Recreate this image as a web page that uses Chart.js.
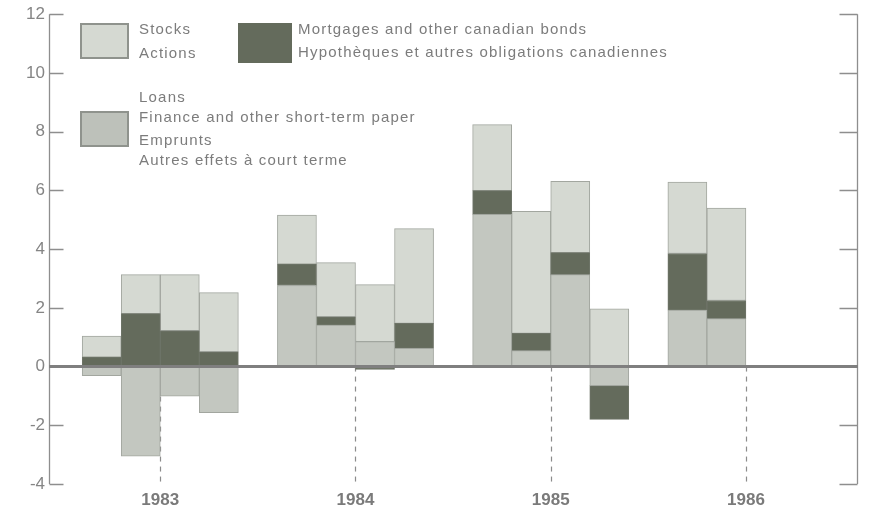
<!DOCTYPE html>
<html>
<head>
<meta charset="utf-8">
<script src="https://cdn.jsdelivr.net/npm/chart.js@4.4.1/dist/chart.umd.min.js"></script>
<style>
  html, body { margin: 0; padding: 0; background: #ffffff; }
  #wrap { position: relative; width: 869px; height: 512px; }
  canvas { position: absolute; left: 0; top: 0; }
  .lg { position: absolute; font-family: "Liberation Sans", Arial, sans-serif; font-size: 15px;
        color: #7c7c7c; letter-spacing: 1.2px; white-space: nowrap; line-height: 16px; }
  .box { position: absolute; box-sizing: border-box; }
</style>
</head>
<body>
<div id="wrap">
  <canvas id="c" width="869" height="512"></canvas>
  <div class="box" style="left:80px;top:23px;width:49px;height:36px;background:#d5d9d2;border:2px solid #8f938d;"></div>
  <div class="lg" style="left:139px;top:21px;">Stocks</div>
  <div class="lg" style="left:139px;top:45px;">Actions</div>
  <div class="box" style="left:238px;top:23px;width:54px;height:40px;background:#646b5c;"></div>
  <div class="lg" style="left:298px;top:21px;">Mortgages and other canadian bonds</div>
  <div class="lg" style="left:298px;top:44px;">Hypothèques et autres obligations canadiennes</div>
  <div class="box" style="left:80px;top:111px;width:49px;height:36px;background:#bdc1ba;border:2px solid #8f938d;"></div>
  <div class="lg" style="left:139px;top:89px;">Loans</div>
  <div class="lg" style="left:139px;top:109px;">Finance and other short-term paper</div>
  <div class="lg" style="left:139px;top:132px;">Emprunts</div>
  <div class="lg" style="left:139px;top:152px;">Autres effets à court terme</div>
</div>
<script>
// ---- data ----
const categories = ['1983 Q1','1983 Q2','1983 Q3','1983 Q4',
                    '1984 Q1','1984 Q2','1984 Q3','1984 Q4',
                    '1985 Q1','1985 Q2','1985 Q3','1985 Q4',
                    '1986 Q1','1986 Q2'];
const loans     = [-0.31, -3.05, -1.01, -1.57, 2.76, 1.41, 0.85, 0.62, 5.18, 0.54, 3.13, -0.65, 1.92, 1.63];
const mortgages = [ 0.32,  1.80,  1.22,  0.50, 0.73, 0.28, -0.10, 0.85, 0.81, 0.59, 0.75, -1.15, 1.93, 0.62];
const stocks    = [ 0.72,  1.33,  1.91,  2.02, 1.67, 1.85, 1.94, 3.23, 2.25, 4.16, 2.43, 1.97, 2.43, 3.15];
const years     = ['1983','1984','1985','1986'];
const yTickValues = [-4,-2,0,2,4,6,8,10,12];

// slot index of a quarter: 4 quarters per year plus one blank slot between years
const firstYear = parseInt(years[0], 10);
function slotOf(cat) {
  const [y, q] = cat.split(' Q');
  return (parseInt(y, 10) - firstYear) * 5 + (parseInt(q, 10) - 1) + 0.5;
}
function yearSlot(y) { return (parseInt(y, 10) - firstYear) * 5 + 2; }
const series = (arr) => categories.map((c, i) => ({ x: slotOf(c), y: arr[i] }));

const frame = {
  id: 'frame',
  beforeDatasetsDraw(chart) {
    const { ctx, chartArea, scales } = chart;
    ctx.save();
    ctx.strokeStyle = '#8c8c8c';
    ctx.lineWidth = 1.2;
    ctx.setLineDash([5, 5]);
    const y0 = scales.y.getPixelForValue(0);
    years.forEach(y => {
      const x = Math.round(scales.x.getPixelForValue(yearSlot(y))) + 0.5;
      ctx.beginPath();
      ctx.moveTo(x, y0);
      ctx.lineTo(x, chartArea.bottom);
      ctx.stroke();
    });
    ctx.restore();
  },
  afterDatasetsDraw(chart) {
    const { ctx, chartArea, scales } = chart;
    const L = chartArea.left + 0.5, R = chartArea.right - 0.5;
    ctx.save();
    ctx.strokeStyle = '#8e8e8e';
    ctx.lineWidth = 1.3;
    ctx.beginPath();
    ctx.moveTo(L, chartArea.top); ctx.lineTo(L, chartArea.bottom);
    ctx.moveTo(R, chartArea.top); ctx.lineTo(R, chartArea.bottom);
    yTickValues.forEach(v => {
      if (v === 0) return;
      const y = Math.round(scales.y.getPixelForValue(v)) + 0.5;
      ctx.moveTo(L, y); ctx.lineTo(L + 14, y);
      ctx.moveTo(R - 18, y); ctx.lineTo(R, y);
    });
    ctx.stroke();
    const y0 = scales.y.getPixelForValue(0);
    ctx.strokeStyle = '#7f7f7f';
    ctx.lineWidth = 3;
    ctx.beginPath();
    ctx.moveTo(chartArea.left, y0); ctx.lineTo(chartArea.right, y0);
    ctx.stroke();
    ctx.restore();
  }
};

new Chart(document.getElementById('c'), {
  type: 'bar',
  data: {
    datasets: [
      { label: 'Loans', data: series(loans), backgroundColor: '#c3c7c0', borderColor: '#a2a69f', borderWidth: 1 },
      { label: 'Mortgages and other canadian bonds', data: series(mortgages), backgroundColor: '#646b5c', borderColor: '#6e7468', borderWidth: 1 },
      { label: 'Stocks', data: series(stocks), backgroundColor: '#d5d9d2', borderColor: '#a2a69f', borderWidth: 1 }
    ]
  },
  options: {
    responsive: false,
    animation: false,
    events: [],
    layout: { padding: { top: 9, right: 11, left: 0, bottom: 0 }, autoPadding: false },
    datasets: { bar: { categoryPercentage: 1, barPercentage: 1, borderSkipped: false } },
    plugins: { legend: { display: false }, tooltip: { enabled: false } },
    scales: {
      x: {
        type: 'linear',
        stacked: true,
        offset: false,
        min: -0.85,
        max: 19.87,
        afterBuildTicks: (s) => { s.ticks = years.map(y => ({ value: yearSlot(y) })); },
        afterFit: (s) => { s.height = 28; },
        ticks: {
          callback: (v) => { const y = years.find(yy => yearSlot(yy) === v); return y || ''; },
          font: { family: 'Liberation Sans, Arial, sans-serif', size: 17, weight: 'bold' },
          color: '#7a7a7a',
          padding: 6,
          maxRotation: 0,
          autoSkip: false
        },
        grid: { display: false, drawTicks: false, offset: false },
        border: { display: false }
      },
      y: {
        stacked: true,
        min: -4,
        max: 12,
        afterBuildTicks: (s) => { s.ticks = yTickValues.map(v => ({ value: v })); },
        afterFit: (s) => { s.width = 49; },
        ticks: {
          font: { family: 'Liberation Sans, Arial, sans-serif', size: 17 },
          color: '#858585',
          padding: 4
        },
        grid: { display: false, drawTicks: false },
        border: { display: false }
      }
    }
  },
  plugins: [frame]
});
</script>
</body>
</html>
